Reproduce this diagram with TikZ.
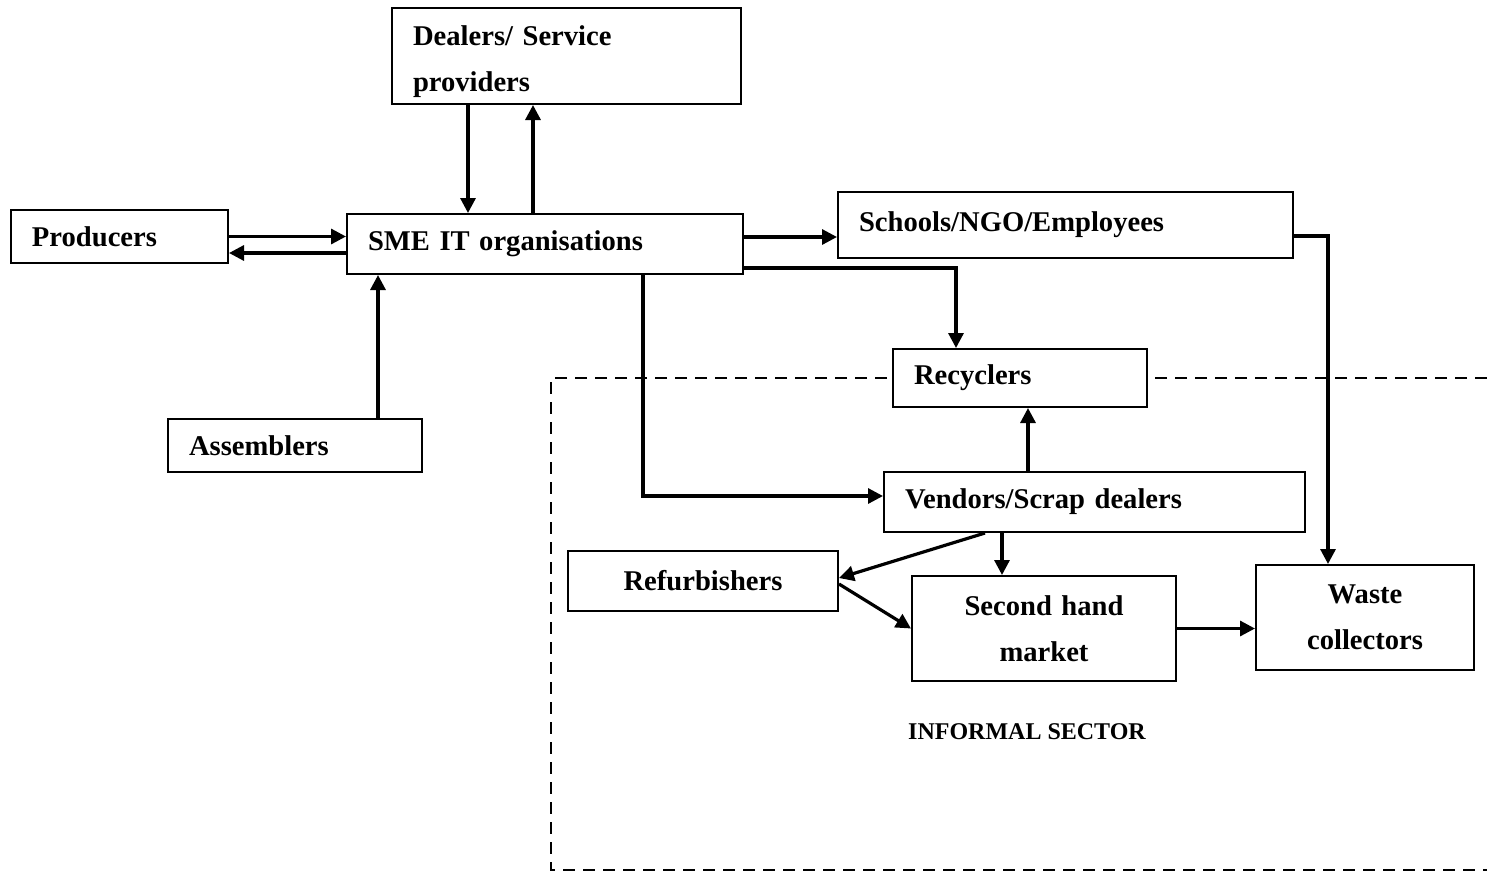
\documentclass[tikz,border=0pt]{standalone}
\usepackage{fontspec}
\setmainfont{Liberation Serif}
\usetikzlibrary{arrows.meta}
\begin{document}
\begin{tikzpicture}[x=0.5pt,y=-0.5pt,
    box/.style={draw,line width=1pt,fill=white,inner xsep=10.5pt,inner ysep=0pt,
        font=\fontsize{14.3}{23}\selectfont\bfseries},
    lbox/.style={box,align=left},
    cbox/.style={box,align=center},
    arr/.style={line width=1.6pt,-{Triangle[length=7.5pt,width=7.5pt]}}]
    \useasboundingbox (0,0) rectangle (1487,873);
    % informal sector border
    \draw[line width=1pt,dash pattern=on 6pt off 4pt] (1487,378) -- (551,378) -- (551,870) -- (1487,870);
    \node[font=\fontsize{12}{14}\selectfont\bfseries] (inf) at (1027,732) {INFORMAL SECTOR};
    % boxes
    \node[lbox,text width=153.5pt,minimum height=48pt] (deal) at (566.5,56) {\rule{0pt}{16pt}Dealers/ Service\\providers};
    \node[lbox,text width=87.5pt,minimum height=26.5pt] (prod) at (119.5,236.5) {Producers};
    \node[lbox,text width=177pt,minimum height=30pt] (sme) at (545,244) {SME IT organisations};
    \node[lbox,text width=206.5pt,minimum height=33pt] (sch) at (1065.5,225) {\rule[-3pt]{0pt}{0pt}Schools/NGO/Employees};
    \node[lbox,text width=106pt,minimum height=29pt] (rec) at (1020,378) {Recyclers};
    \node[lbox,text width=106pt,minimum height=26.5pt] (asm) at (295,445.5) {Assemblers};
    \node[lbox,text width=189.5pt,minimum height=30pt] (ven) at (1094.5,502) {Vendors/Scrap dealers};
    \node[cbox,text width=114pt,minimum height=30pt] (ref) at (703,581) {Refurbishers};
    \node[cbox,text width=111pt,minimum height=52.5pt] (sec) at (1044,628.5) {Second hand\\market};
    \node[cbox,text width=88pt,minimum height=52.5pt] (was) at (1365,617.5) {Waste\\collectors};
    % arrows around SME
    \draw[arr] (prod.east) -- (prod.east -| sme.west);
    \coordinate (p1) at ([yshift=-4.5pt]sme.west);
    \draw[arr] (p1) -- (p1 -| prod.east);
    \coordinate (d1) at ([xshift=-38.5pt]sme.north);
    \draw[arr] (d1 |- deal.south) -- (d1);
    \coordinate (d2) at ([xshift=-6pt]sme.north);
    \draw[arr] (d2) -- (d2 |- deal.south);
    \coordinate (a1) at ([xshift=41.5pt]asm.north);
    \draw[arr] (a1) -- (a1 |- sme.south);
    \coordinate (s1) at ([yshift=-6pt]sch.west);
    \draw[arr] (s1 -| sme.east) -- (s1);
    \coordinate (r1) at ([xshift=-32pt]rec.north);
    \draw[arr] ([yshift=-12pt]sme.east) -| (r1);
    \coordinate (v1) at ([xshift=49pt]sme.south);
    \coordinate (v2) at ([yshift=3pt]ven.west);
    \draw[arr] (v1) |- (v2);
    % informal flows
    \coordinate (v3) at ([xshift=4pt]rec.south);
    \draw[arr] (v3 |- ven.north) -- (v3);
    \coordinate (w1) at ([xshift=-18.5pt]was.north);
    \draw[arr] ([yshift=-5.5pt]sch.east) -| (w1);
    \draw[arr] ([xshift=-54.75pt]ven.south) -- ([yshift=1.5pt]ref.east);
    \coordinate (v4) at ([xshift=-21pt]sec.north);
    \draw[arr] (v4 |- ven.south) -- (v4);
    \draw[arr] ([yshift=-1.5pt]ref.east) -- (sec.west);
    \draw[arr] (sec.east) -- (sec.east -| was.west);
\end{tikzpicture}
\end{document}
